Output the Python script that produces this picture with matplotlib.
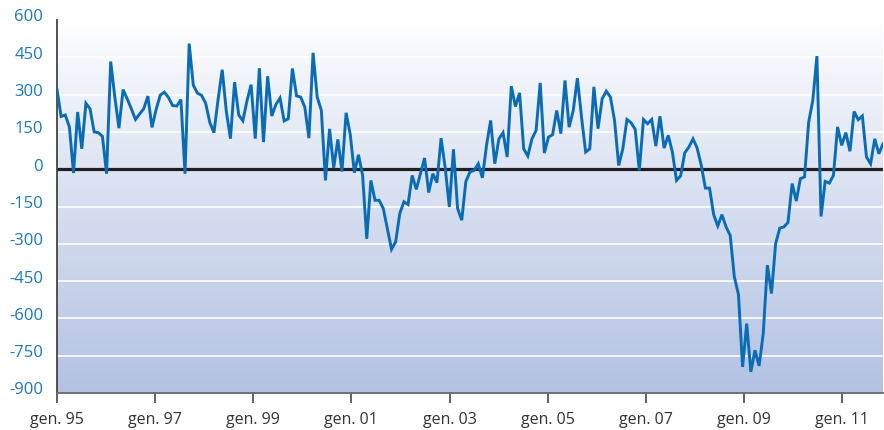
import matplotlib
matplotlib.use("Agg")
import matplotlib.pyplot as plt
import matplotlib.transforms as mtransforms
import numpy as np

# variazione mensile, gen. 1995 - set. 2011
values = [
    320, 212, 218, 170, -15, 230, 82, 265, 243, 150, 147, 132,
    -18, 433, 290, 165, 320, 283, 243, 200, 222, 243, 294, 168,
    240, 298, 310, 288, 256, 254, 280, -18, 505, 338, 306, 297,
    265, 188, 147, 280, 400, 232, 123, 350, 218, 195, 275, 340,
    123, 406, 109, 374, 214, 260, 286, 194, 203, 405, 295, 290,
    250, 125, 468, 290, 237, -45, 162, 5, 120, -9, 227, 140,
    -14, 58, -25, -280, -45, -125, -125, -158, -240, -322, -292, -178,
    -131, -142, -25, -81, -18, 45, -94, -18, -54, 125, 5, -152,
    80, -158, -205, -49, -11, -5, 22, -35, 96, 196, 22, 122,
    147, 49, 334, 252, 307, 82, 53, 122, 156, 347, 65, 129,
    139, 236, 143, 357, 169, 236, 366, 210, 69, 82, 331, 163,
    283, 314, 290, 196, 15, 82, 200, 187, 160, -5, 200, 183,
    200, 93, 213, 85, 136, 69, -45, -27, 66, 89, 122, 85,
    15, -76, -76, -183, -228, -183, -232, -266, -433, -504, -795, -621,
    -815, -728, -791, -661, -386, -500, -300, -237, -232, -214, -58, -128,
    -38, -31, 189, 276, 455, -190, -49, -56, -25, 170, 96, 147,
    72, 232, 199, 214, 49, 22, 122, 62, 102,
]
tick_labels = ["gen. 95", "gen. 97", "gen. 99", "gen. 01", "gen. 03",
               "gen. 05", "gen. 07", "gen. 09", "gen. 11"]
y_ticks = list(range(-900, 601, 150))

months = np.arange(len(values))
tick_step = 23.76  # the ticks of the original sit slightly off the month grid

plt.rcParams['font.family'] = ['Open Sans', 'DejaVu Sans']

fig = plt.figure(figsize=(8.84, 4.31), dpi=100)
ax = fig.add_axes([57 / 884, 37 / 431, 826 / 884, 373 / 431])

ymin, ymax = -900, 600
xmax = months[-1]

# sfondo sfumato
top = np.array([1.0, 1.0, 1.0])
bottom = np.array([179, 194, 227]) / 255
t = np.linspace(0, 1, 256)[:, None] ** 0.9
grad = (top * (1 - t) + bottom * t)[:, None, :]
ax.imshow(grad, extent=[0, xmax, ymin, ymax], aspect='auto', zorder=0)

for y in y_ticks:
    if y != 0:
        ax.axhline(y, color='white', lw=1.2, zorder=1)
ax.axhline(0, color='#231f20', lw=2.3, zorder=2)

ax.plot(months, values, color='#0a6cb4', lw=2.1, zorder=3,
        solid_joinstyle='miter')

ax.set_xlim(0, xmax)
ax.set_ylim(ymin, ymax)

ax.set_yticks(y_ticks)
ax.set_yticklabels([str(v) for v in y_ticks])
ax.tick_params(axis='y', length=0, pad=10, labelsize=12, labelcolor='#1a78be')
offset = mtransforms.ScaledTranslation(0, 4 / 72, fig.dpi_scale_trans)
for lab in ax.get_yticklabels():
    lab.set_transform(lab.get_transform() + offset)

ax.set_xticks(np.arange(len(tick_labels)) * tick_step)
ax.set_xticklabels(tick_labels)
ax.tick_params(axis='x', length=7, width=1.3, color='#555555', pad=6,
               labelsize=11.5, labelcolor='#333333')

for side in ['top', 'right']:
    ax.spines[side].set_visible(False)
ax.spines['left'].set_color('#444444')
ax.spines['left'].set_linewidth(1.3)
ax.spines['bottom'].set_color('#666666')
ax.spines['bottom'].set_linewidth(1.3)

fig.savefig('out.png', dpi=100)
